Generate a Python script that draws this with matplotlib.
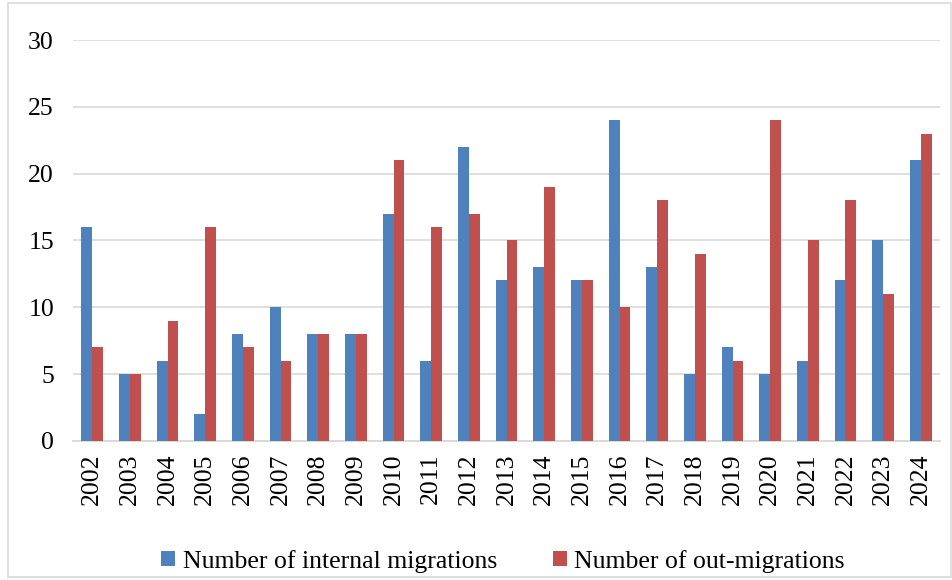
import numpy as np
import matplotlib.pyplot as plt
from matplotlib.patches import Rectangle

years = [str(y) for y in range(2002, 2025)]
internal = [16, 5, 6, 2, 8, 10, 8, 8, 17, 6, 22, 12, 13, 12, 24, 13, 5, 7, 5, 6, 12, 15, 21]
out_migr = [7, 5, 9, 16, 7, 6, 8, 8, 21, 16, 17, 15, 19, 12, 10, 18, 14, 6, 24, 15, 18, 11, 23]

plt.rcParams['font.family'] = ['Liberation Serif', 'DejaVu Serif']

fig = plt.figure(figsize=(9.53, 5.8), dpi=100)
ax = fig.add_axes([0.077, 0.24, 0.909, 0.691])

x = np.arange(len(years))
w = 0.29
ax.bar(x - w / 2, internal, w, color='#4F81BD', label='Number of internal migrations', zorder=3)
ax.bar(x + w / 2, out_migr, w, color='#C0504D', label='Number of out-migrations', zorder=3)

ax.set_xlim(-0.5, len(years) - 0.5)
ax.set_ylim(0, 30)
ax.set_yticks(range(0, 31, 5))
ax.set_xticks(x)
ax.set_xticklabels(years, rotation=90)
ax.tick_params(axis='both', length=0, labelsize=18.5)
ax.tick_params(axis='y', pad=14)
ax.tick_params(axis='x', pad=9)
ax.yaxis.grid(True, color='#D9D9D9', linewidth=1.2, zorder=0)
for s in ['top', 'right', 'left']:
    ax.spines[s].set_visible(False)
ax.spines['bottom'].set_color('#D9D9D9')
ax.spines['bottom'].set_linewidth(1.4)

ax.legend(loc='center', bbox_to_anchor=(0.496, -0.3), ncol=2, frameon=False,
          fontsize=18.5, handlelength=0.55, handleheight=0.55, columnspacing=2.15,
          handletextpad=0.3, bbox_transform=ax.transAxes)

fig.patches.append(Rectangle((0.008, 0.005), 0.99, 0.99, transform=fig.transFigure,
                             fill=False, edgecolor='#D9D9D9', linewidth=1.2))

fig.savefig('out.png', dpi=100)
